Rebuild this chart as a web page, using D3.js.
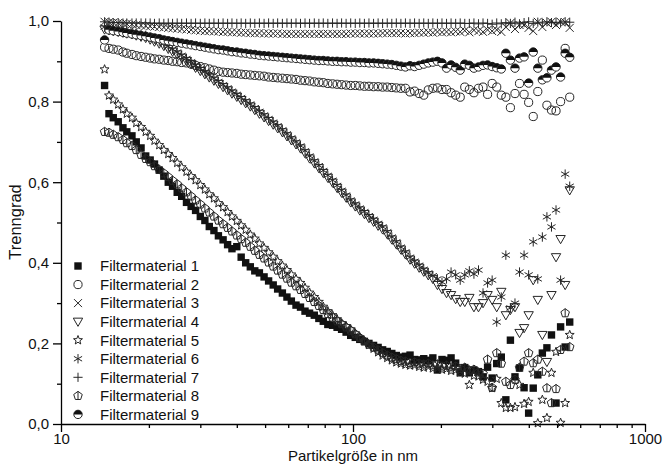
<!DOCTYPE html>
<html><head><meta charset="utf-8">
<script src="https://cdn.jsdelivr.net/npm/d3@7"></script>
<style>body{margin:0;background:#fff} text{font-family:"Liberation Sans",Arial,sans-serif}</style>
</head><body><svg id="c" width="665" height="464"></svg>
<script>
const sizes = [14.1,14.6,15.1,15.7,16.3,16.8,17.5,18.1,18.8,19.5,
20.2,20.9,21.7,22.5,23.3,24.1,25.0,25.9,26.9,27.9,
28.9,30.0,31.1,32.2,33.4,34.6,35.9,37.2,38.5,40.0,
41.4,42.9,44.5,46.1,47.8,49.6,51.4,53.3,55.2,57.3,
59.4,61.5,63.8,66.1,68.5,71.0,73.7,76.4,79.1,82.0,
85.1,88.2,91.4,94.7,98.2,101.8,105.5,109.4,113.4,117.6,
121.9,126.3,131.0,135.8,140.7,145.9,151.2,156.8,162.5,168.5,
174.7,181.1,187.7,194.6,201.7,209.1,216.7,224.7,232.9,241.4,
250.3,259.5,269.0,278.8,289.0,299.6,310.6,322.0,333.8,346.0,
358.7,371.8,385.4,399.5,414.2,429.4,445.1,461.4,478.3,495.8,
514.0,532.8,552.3];

const fm1 = [0.84,0.77,0.76,0.75,0.735,0.725,0.715,0.70,0.685,0.665,
0.655,0.645,0.63,0.615,0.60,0.59,0.575,0.565,0.55,0.54,
0.53,0.515,0.505,0.49,0.48,0.467,0.457,0.445,0.435,0.44,
0.414,0.40,0.39,0.38,0.375,0.365,0.355,0.345,0.335,0.325,
0.315,0.305,0.295,0.29,0.28,0.275,0.27,0.262,0.255,0.247,
0.245,0.24,0.235,0.228,0.22,0.215,0.21,0.205,0.2,0.195,
0.19,0.184,0.18,0.175,0.17,0.166,0.168,0.171,0.16,0.159,
0.162,0.158,0.164,0.134,0.16,0.158,0.164,0.151,0.127,0.14,
0.127,0.134,0.13,0.117,0.141,0.114,0.15,0.166,0.06,0.208,
0.117,0.139,0.09,0.027,0.089,0.122,0.176,0.189,0.221,0.052,
0.241,0.191,0.253];

const fm2 = [0.935,0.932,0.93,0.928,0.923,0.92,0.917,0.914,0.912,0.91,
0.908,0.906,0.905,0.903,0.902,0.9,0.899,0.897,0.896,0.893,
0.89,0.887,0.884,0.881,0.878,0.875,0.873,0.872,0.871,0.87,
0.868,0.867,0.866,0.865,0.864,0.863,0.861,0.86,0.859,0.858,
0.857,0.856,0.855,0.853,0.852,0.851,0.849,0.848,0.847,0.845,
0.844,0.843,0.842,0.841,0.84,0.84,0.839,0.838,0.838,0.837,
0.837,0.836,0.836,0.835,0.834,0.833,0.833,0.824,0.826,0.82,
0.816,0.829,0.833,0.834,0.83,0.83,0.822,0.816,0.811,0.836,
0.83,0.822,0.833,0.836,0.818,0.845,0.836,0.816,0.811,0.785,
0.82,0.845,0.818,0.798,0.763,0.825,0.903,0.791,0.779,0.777,
0.8,0.932,0.811];

const fm3 = [0.998,0.997,0.996,0.995,0.994,0.993,0.992,0.99,0.989,0.988,
0.987,0.986,0.985,0.984,0.983,0.982,0.981,0.98,0.979,0.978,
0.977,0.976,0.975,0.975,0.974,0.974,0.973,0.973,0.972,0.972,
0.971,0.971,0.97,0.97,0.97,0.969,0.969,0.969,0.969,0.968,
0.968,0.968,0.968,0.968,0.968,0.968,0.968,0.968,0.968,0.968,
0.968,0.968,0.968,0.968,0.969,0.969,0.969,0.969,0.969,0.969,
0.969,0.97,0.97,0.97,0.97,0.97,0.969,0.97,0.97,0.971,
0.971,0.972,0.971,0.973,0.972,0.973,0.972,0.974,0.973,0.976,
0.972,0.977,0.975,0.973,0.978,0.975,0.978,0.973,0.985,0.995,
0.98,0.99,0.99,0.983,0.975,0.998,0.985,0.995,0.998,0.99,
0.998,0.997,0.983];

const fm4 = [0.979,0.977,0.975,0.973,0.971,0.969,0.967,0.964,0.961,0.958,
0.954,0.949,0.944,0.938,0.931,0.924,0.917,0.909,0.901,0.893,
0.884,0.876,0.868,0.86,0.852,0.844,0.836,0.828,0.82,0.812,
0.804,0.796,0.788,0.779,0.77,0.761,0.752,0.743,0.734,0.724,
0.714,0.704,0.694,0.684,0.672,0.659,0.647,0.635,0.623,0.611,
0.599,0.586,0.574,0.562,0.55,0.54,0.53,0.521,0.511,0.502,
0.492,0.483,0.471,0.458,0.446,0.433,0.421,0.408,0.398,0.388,
0.378,0.369,0.36,0.345,0.335,0.325,0.32,0.31,0.303,0.303,
0.313,0.29,0.29,0.3,0.32,0.308,0.29,0.328,0.27,0.283,
0.29,0.226,0.238,0.27,0.357,0.308,0.221,0.154,0.32,0.414,
0.459,0.345,0.58];

const fm5 = [0.88,0.815,0.805,0.793,0.781,0.77,0.76,0.747,0.737,0.725,
0.715,0.703,0.692,0.68,0.67,0.66,0.648,0.637,0.626,0.615,
0.605,0.593,0.582,0.57,0.56,0.548,0.538,0.526,0.515,0.504,
0.493,0.482,0.47,0.46,0.448,0.437,0.426,0.415,0.404,0.393,
0.382,0.371,0.36,0.35,0.338,0.326,0.315,0.303,0.291,0.28,
0.27,0.26,0.25,0.243,0.235,0.225,0.215,0.205,0.196,0.187,
0.178,0.17,0.164,0.158,0.153,0.15,0.147,0.145,0.146,0.142,
0.14,0.143,0.138,0.14,0.135,0.137,0.132,0.134,0.128,0.125,
0.097,0.12,0.118,0.11,0.105,0.089,0.112,0.052,0.04,0.04,
0.042,0.097,0.05,0.055,0.127,0.002,0.06,0.015,0.127,0.179,
0.003,0.052,0.221];

const fm6 = [0.985,0.983,0.981,0.979,0.977,0.975,0.973,0.97,0.967,0.964,
0.96,0.955,0.95,0.944,0.937,0.93,0.923,0.915,0.907,0.899,
0.89,0.882,0.874,0.866,0.858,0.85,0.842,0.834,0.826,0.818,
0.81,0.802,0.794,0.785,0.776,0.767,0.758,0.749,0.74,0.73,
0.72,0.71,0.70,0.69,0.678,0.665,0.653,0.641,0.629,0.617,
0.605,0.592,0.58,0.568,0.556,0.546,0.536,0.527,0.517,0.508,
0.498,0.489,0.477,0.464,0.452,0.439,0.427,0.414,0.404,0.394,
0.384,0.375,0.368,0.36,0.352,0.36,0.377,0.37,0.357,0.37,
0.38,0.372,0.382,0.325,0.35,0.357,0.253,0.315,0.419,0.288,
0.3,0.377,0.419,0.37,0.452,0.36,0.464,0.514,0.489,0.531,
0.357,0.62,0.59];

const fm7 = [0.998,0.997,0.996,0.996,0.995,0.995,0.995,0.995,0.995,0.995,
0.995,0.994,0.995,0.994,0.995,0.994,0.995,0.994,0.995,0.994,
0.995,0.994,0.995,0.994,0.995,0.994,0.995,0.994,0.995,0.994,
0.995,0.994,0.995,0.994,0.995,0.994,0.995,0.994,0.995,0.994,
0.995,0.994,0.995,0.994,0.995,0.994,0.995,0.994,0.995,0.994,
0.995,0.994,0.995,0.994,0.995,0.994,0.995,0.994,0.995,0.994,
0.995,0.994,0.995,0.994,0.995,0.994,0.995,0.994,0.995,0.994,
0.995,0.994,0.995,0.994,0.995,0.994,0.995,0.994,0.995,0.994,
0.994,0.995,0.993,0.995,0.994,0.992,0.995,0.993,0.996,0.994,
0.997,0.993,0.996,0.998,0.994,0.997,0.995,0.998,0.996,0.997,
0.995,0.998,0.997];

const fm8 = [0.725,0.723,0.718,0.712,0.705,0.697,0.69,0.68,0.668,0.658,
0.65,0.64,0.631,0.622,0.613,0.604,0.595,0.585,0.575,0.565,
0.555,0.545,0.535,0.525,0.515,0.505,0.496,0.487,0.478,0.468,
0.459,0.45,0.44,0.43,0.42,0.411,0.401,0.391,0.381,0.371,
0.361,0.351,0.342,0.333,0.323,0.313,0.303,0.293,0.283,0.273,
0.264,0.255,0.248,0.24,0.232,0.223,0.214,0.205,0.197,0.19,
0.183,0.176,0.17,0.165,0.161,0.157,0.155,0.152,0.153,0.15,
0.148,0.15,0.146,0.148,0.143,0.145,0.141,0.143,0.137,0.14,
0.133,0.135,0.128,0.125,0.16,0.09,0.176,0.15,0.105,0.097,
0.11,0.14,0.155,0.176,0.151,0.16,0.13,0.089,0.052,0.087,
0.184,0.275,0.191];

const fm9 = [0.953,0.978,0.976,0.974,0.972,0.97,0.968,0.966,0.964,0.962,
0.96,0.958,0.956,0.953,0.951,0.949,0.947,0.945,0.943,0.941,
0.939,0.937,0.935,0.933,0.931,0.929,0.928,0.926,0.924,0.923,
0.921,0.92,0.918,0.917,0.915,0.914,0.913,0.912,0.911,0.91,
0.909,0.908,0.907,0.906,0.905,0.904,0.903,0.902,0.902,0.901,
0.9,0.9,0.899,0.899,0.898,0.898,0.897,0.897,0.896,0.896,
0.895,0.894,0.893,0.892,0.89,0.888,0.886,0.889,0.887,0.89,
0.893,0.896,0.898,0.9,0.896,0.883,0.891,0.885,0.878,0.893,
0.89,0.883,0.886,0.89,0.891,0.887,0.884,0.881,0.92,0.903,
0.883,0.908,0.911,0.846,0.923,0.883,0.854,0.859,0.878,0.886,
0.861,0.92,0.91];

const seriesNames = ["Filtermaterial 1","Filtermaterial 2","Filtermaterial 3","Filtermaterial 4","Filtermaterial 5","Filtermaterial 6","Filtermaterial 7","Filtermaterial 8","Filtermaterial 9"];
const seriesValues = [fm1,fm2,fm3,fm4,fm5,fm6,fm7,fm8,fm9];
const markerTypes = ["square","circle","cross","triangle","star","asterisk","plus","pentagon","halfcircle"];

const yMajor = [0,0.2,0.4,0.6,0.8,1.0];
const yMajorLabels = ["0,0","0,2","0,4","0,6","0,8","1,0"];
const yMinor = [0.1,0.3,0.5,0.7,0.9];
const xMajor = [10,100,1000];
const xMajorLabels = ["10","100","1000"];
const xMinor = [20,30,40,50,60,70,80,90,200,300,400,500,600,700,800,900];
const xTitle = "Partikelgröße in nm";
const yTitle = "Trenngrad";

const svg = d3.select("#c");
const x = d3.scaleLog().domain([10,1000]).range([61,645]);
const y = d3.scaleLinear().domain([0,1]).range([424,21]);

function starPath(ro, ri){
  let p = [];
  for (let i=0;i<10;i++){
    const r = i%2===0?ro:ri;
    const a = -Math.PI/2 + i*Math.PI/5;
    p.push([r*Math.cos(a), r*Math.sin(a)]);
  }
  return "M"+p.map(d=>d[0].toFixed(2)+","+d[1].toFixed(2)).join("L")+"Z";
}
function polyPath(n, r){
  let p=[];
  for(let i=0;i<n;i++){const a=-Math.PI/2+i*2*Math.PI/n; p.push([r*Math.cos(a),r*Math.sin(a)]);}
  return "M"+p.map(d=>d[0].toFixed(2)+","+d[1].toFixed(2)).join("L")+"Z";
}

const stroke = "#262626", sw = 1.0;
function drawMarker(g, type){
  switch(type){
    case "square":
      g.append("rect").attr("x",-3.7).attr("y",-3.7).attr("width",7.4).attr("height",7.4).attr("fill","#111");
      break;
    case "circle":
      g.append("circle").attr("r",4.1).attr("fill","none").attr("stroke",stroke).attr("stroke-width",sw);
      break;
    case "cross":
      g.append("path").attr("d","M-4,-4L4,4M-4,4L4,-4").attr("stroke",stroke).attr("stroke-width",sw);
      break;
    case "triangle":
      g.append("path").attr("d","M-4.7,-3.5L4.7,-3.5L0,4.7Z").attr("fill","none").attr("stroke",stroke).attr("stroke-width",sw);
      break;
    case "star":
      g.append("path").attr("d",starPath(4.7,2.0)).attr("fill","none").attr("stroke",stroke).attr("stroke-width",sw);
      break;
    case "asterisk":
      g.append("path").attr("d","M0,-4.7V4.7M-4.1,-2.35L4.1,2.35M-4.1,2.35L4.1,-2.35").attr("stroke",stroke).attr("stroke-width",sw);
      break;
    case "plus":
      g.append("path").attr("d","M-4.6,0H4.6M0,-4.6V4.6").attr("stroke",stroke).attr("stroke-width",sw);
      break;
    case "pentagon":
      g.append("path").attr("d",polyPath(5,4.5)+"M0,-4.5V3.7").attr("fill","none").attr("stroke",stroke).attr("stroke-width",sw);
      break;
    case "halfcircle":
      g.append("circle").attr("r",4.2).attr("fill","#fff").attr("stroke",stroke).attr("stroke-width",sw);
      g.append("path").attr("d","M-4.2,0A4.2,4.2 0 0,1 4.2,0Z").attr("fill","#111");
      break;
  }
}

// data
seriesValues.forEach((vals, si) => {
  const gs = svg.append("g").attr("class","series s"+(si+1));
  vals.forEach((v, i) => {
    const g = gs.append("g").attr("transform", `translate(${x(sizes[i])},${y(v)})`);
    drawMarker(g, markerTypes[si]);
  });
});

// axes
const axisW = 1.3;
const yAx = svg.append("g").attr("transform","translate(61,0)")
  .call(d3.axisLeft(y).tickValues(yMajor).tickFormat((d,i)=>yMajorLabels[i]).tickSize(8).tickSizeOuter(0).tickPadding(4));
const yAxMin = svg.append("g").attr("transform","translate(61,0)")
  .call(d3.axisLeft(y).tickValues(yMinor).tickFormat("").tickSize(4).tickSizeOuter(0));
const xAx = svg.append("g").attr("transform","translate(0,424)")
  .call(d3.axisBottom(x).tickValues(xMajor).tickFormat((d,i)=>xMajorLabels[i]).tickSize(8).tickSizeOuter(0).tickPadding(1));
const xAxMin = svg.append("g").attr("transform","translate(0,424)")
  .call(d3.axisBottom(x).tickValues(xMinor).tickFormat("").tickSize(4).tickSizeOuter(0));
[yAx,yAxMin,xAx,xAxMin].forEach(a=>{
  a.selectAll("path,line").attr("stroke","#000").attr("stroke-width",axisW);
  a.selectAll("text").attr("font-size",15).attr("fill","#111").attr("font-family",'"Liberation Sans",Arial,sans-serif');
});
yAxMin.select(".domain").remove();
xAxMin.select(".domain").remove();

// titles
svg.append("text").attr("x",353).attr("y",460.6).attr("text-anchor","middle").attr("font-size",15).attr("fill","#111").text(xTitle);
svg.append("text").attr("transform","translate(21,222) rotate(-90)").attr("text-anchor","middle").attr("font-size",16.5).attr("fill","#111").text(yTitle);

// legend
const leg = svg.append("g");
seriesNames.forEach((n,i)=>{
  const cy = 266 + i*18.55;
  const g = leg.append("g").attr("transform",`translate(78,${cy})`);
  drawMarker(g, markerTypes[i]);
  leg.append("text").attr("x",100).attr("y",cy+5.3).attr("font-size",15).attr("fill","#111").text(n);
});
</script></body></html>
